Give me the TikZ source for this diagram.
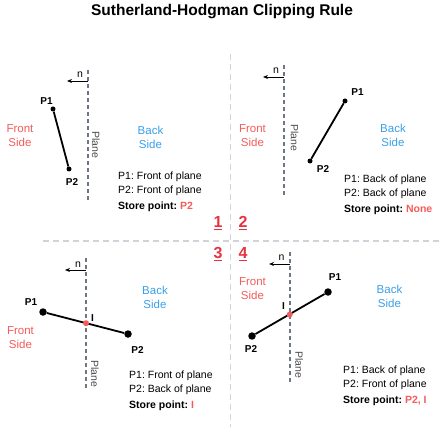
\documentclass[tikz,border=0pt]{standalone}
\usepackage{fontspec}
\setmainfont{Liberation Sans}
\usetikzlibrary{arrows.meta,positioning}
\definecolor{frontred}{HTML}{F45B5B}
\definecolor{numred}{HTML}{E3343F}
\definecolor{backblue}{HTML}{3A9FE8}
\definecolor{planegray}{HTML}{6E7781}
\definecolor{sepgray}{HTML}{D0D3D7}
\frenchspacing

\begin{document}
\begin{tikzpicture}[x=1pt,y=-1pt,
      plane/.style={
         draw=planegray,
         line width=1.6pt,
         dash pattern=on 4pt off 3pt},
      sepline/.style={
         draw=sepgray,
         line width=1.6pt,
         dash pattern=on 6pt off 4pt},
      normal/.style={-{Stealth[length=5pt,width=4pt]},line width=0.9pt},
      segment/.style={line width=1.8pt},
      bigdot/.style={circle,fill=black,inner sep=0pt,minimum size=7.5pt},
      smalldot/.style={circle,fill=black,inner sep=0pt,minimum size=5pt},
      idot/.style={circle,fill=frontred,inner sep=0pt,minimum size=6pt},
      ptlabel/.style={font=\fontsize{10}{12}\selectfont\bfseries},
      front/.style={text=frontred,align=center,font=\fontsize{11.5}{14}\selectfont},
      back/.style={text=backblue,align=center,font=\fontsize{11.5}{14}\selectfont},
      planetext/.style={text=black!70,rotate=-90,font=\fontsize{10.5}{12}\selectfont},
      ntext/.style={font=\fontsize{10.5}{12}\selectfont},
      info/.style={anchor=base west,inner sep=0pt,font=\fontsize{10.5}{12}\selectfont},
      quadnum/.style={text=numred,font=\fontsize{16}{18}\selectfont\bfseries,
         inner sep=1pt},
      ]
      \useasboundingbox (0,0) rectangle (444,430);
      \node[font=\fontsize{15.5}{18}\selectfont\bfseries] (title) at (222,12)
         {Sutherland-Hodgman Clipping Rule};
      % quadrant separators
      \coordinate (vtop) at (230.5,54);
      \coordinate (vbot) at (230.5,427);
      \coordinate (hleft) at (43,241);
      \coordinate (hright) at (440,241);
      \draw[sepline] (vtop) -- (vbot);
      \draw[sepline] (hleft) -- (hright);
      \node[quadnum] (n1) at (218,223) {\underline{1}};
      \node[quadnum] (n2) at (243,223) {\underline{2}};
      \node[quadnum] (n3) at (218,254) {\underline{3}};
      \node[quadnum] (n4) at (243,254) {\underline{4}};

      % 1: both points in front
      \coordinate (pl1a) at (88,70);
      \coordinate (pl1b) at (88,200);
      \coordinate (nr1) at (88,81);
      \coordinate (nl1) at (67,81);
      \draw[plane] (pl1a) -- (pl1b);
      \draw[normal] (nr1) -- (nl1);
      \node[ntext] (nt1) at (80,75) {n};
      \node[planetext] (plt1) at (96,145) {Plane};
      \node[front] (fs1) at (20,136) {Front\\Side};
      \node[back] (bs1) at (150.5,137) {Back\\Side};
      \node[smalldot] (a1) at (53,109) {};
      \node[smalldot] (b1) at (69,169) {};
      \draw[segment] (a1) -- (b1);
      \node[ptlabel] (a1t) at (46.5,101) {P1};
      \node[ptlabel] (b1t) at (72,182.5) {P2};

      % 2: both points behind
      \coordinate (pl2a) at (283.7,65);
      \coordinate (pl2b) at (283.7,197);
      \coordinate (nr2) at (283.7,77);
      \coordinate (nl2) at (263,77);
      \draw[plane] (pl2a) -- (pl2b);
      \draw[normal] (nr2) -- (nl2);
      \node[ntext] (nt2) at (276,70.5) {n};
      \node[planetext] (plt2) at (294.5,138) {Plane};
      \node[front] (fs2) at (252.5,136) {Front\\Side};
      \node[back] (bs2) at (393,135) {Back\\Side};
      \node[smalldot] (a2) at (345,101) {};
      \node[smalldot] (b2) at (310,161) {};
      \draw[segment] (a2) -- (b2);
      \node[ptlabel] (a2t) at (357.5,92.5) {P1};
      \node[ptlabel] (b2t) at (323,169) {P2};

      % 3: front to back
      \coordinate (pl3a) at (86,258);
      \coordinate (pl3b) at (86,390);
      \coordinate (nr3) at (86,270);
      \coordinate (nl3) at (65,270);
      \draw[plane] (pl3a) -- (pl3b);
      \draw[normal] (nr3) -- (nl3);
      \node[ntext] (nt3) at (78,265) {n};
      \node[planetext] (plt3) at (95,373.5) {Plane};
      \node[front] (fs3) at (20.5,338) {Front\\Side};
      \node[back] (bs3) at (155,297) {Back\\Side};
      \node[bigdot] (a3) at (43,312) {};
      \node[bigdot] (b3) at (128,334) {};
      \draw[segment] (a3) -- (b3);
      \node[idot] (i3) at (86,323.2) {};
      \node[ptlabel] (a3t) at (31,302) {P1};
      \node[ptlabel] (b3t) at (137.5,350) {P2};
      \node[ptlabel] (i3t) at (92.5,318.5) {I};

      % 4: back to front
      \coordinate (pl4a) at (289.7,252);
      \coordinate (pl4b) at (289.7,383);
      \coordinate (nr4) at (289.7,264);
      \coordinate (nl4) at (269,264);
      \draw[plane] (pl4a) -- (pl4b);
      \draw[normal] (nr4) -- (nl4);
      \node[ntext] (nt4) at (281.5,258) {n};
      \node[planetext] (plt4) at (299,365) {Plane};
      \node[front] (fs4) at (252.5,289) {Front\\Side};
      \node[back] (bs4) at (389.5,296) {Back\\Side};
      \node[bigdot] (a4) at (328,292) {};
      \node[bigdot] (b4) at (252,336) {};
      \draw[segment] (a4) -- (b4);
      \node[idot] (i4) at (289.7,314.5) {};
      \node[ptlabel] (a4t) at (335,277) {P1};
      \node[ptlabel] (b4t) at (251,349.5) {P2};
      \node[ptlabel] (i4t) at (283.5,306) {I};

      % point status and stored points
      \foreach \x/\y/\pa/\pb/\st in {
         118/180/Front/Front/P2,
         344/183/Back/Back/None,
         129/378/Front/Back/I,
         343/373/Back/Front/{P2, I}}
      {
         \node[info] at (\x,\y) {P1: \pa\ of plane};
         \node[info] at (\x,\y+14) {P2: \pb\ of plane};
         \node[info] at (\x,\y+30) {\bfseries Store point: \textcolor{frontred}{\st}};
      }
\end{tikzpicture}
\end{document}
